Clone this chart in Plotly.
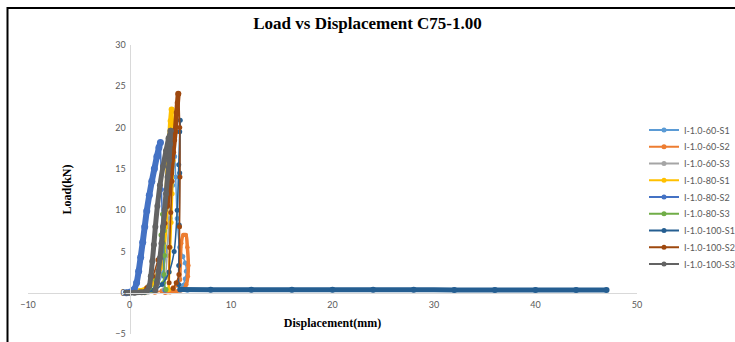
import plotly.graph_objects as go

# ---- specimen names and colours ----
names = ["I-1.0-60-S1", "I-1.0-60-S2", "I-1.0-60-S3",
         "I-1.0-80-S1", "I-1.0-80-S2", "I-1.0-80-S3",
         "I-1.0-100-S1", "I-1.0-100-S2", "I-1.0-100-S3"]
colors = ["#5B9BD5", "#ED7D31", "#A5A5A5",
          "#FFC000", "#4472C4", "#70AD47",
          "#255E91", "#9E480E", "#636363"]

x_ticks = [-10, 0, 10, 20, 30, 40, 50]
y_ticks = [-5, 0, 5, 10, 15, 20, 25, 30]

# ---- displacement (mm) / load (kN) readings, per specimen segment ----
# I-1.0-60-S1
s1_x = [0.0, 1.0, 2.0, 2.6, 3.2, 3.7, 4.0, 4.25, 4.45, 4.55, 4.7, 4.95, 5.25, 5.5, 5.6, 5.5, 5.3, 5.45, 5.7]
s1_y = [0.0, 0.05, 0.15, 0.6, 2.2, 5.5, 9.0, 13.0, 16.5, 14.0, 9.0, 5.5, 4.4, 3.6, 2.6, 1.7, 0.9, 0.4, 0.3]

# I-1.0-60-S2
s2_rise_x = [0.0, 1.5, 2.5, 3.2, 3.8, 4.3, 4.7, 4.95]
s2_rise_y = [0.0, 0.0, 0.05, 0.2, 0.4, 0.6, 0.9, 1.6]
s2_loop_x = [4.95, 5.0, 5.1, 5.3, 5.55, 5.7, 5.8, 5.75, 5.6, 5.4, 5.1, 4.6, 4.0, 3.5]
s2_loop_y = [1.6, 3.5, 6.0, 7.0, 7.0, 5.5, 3.3, 2.0, 1.0, 0.5, 0.3, 0.15, 0.05, 0.0]

# I-1.0-60-S3
s3_x = [0.0, 1.8, 2.5, 2.9, 3.2, 3.5, 3.75, 3.9, 3.95, 3.85, 3.7, 3.55, 3.4]
s3_y = [0.0, 0.05, 0.4, 2.0, 4.5, 8.0, 11.5, 14.0, 12.0, 8.0, 4.5, 1.8, 0.4]

# I-1.0-80-S1
s4_rise_x = [0.0, 1.0, 1.8, 2.5, 3.0, 3.3, 3.5, 3.65, 3.8, 3.95, 4.05, 4.15]
s4_rise_y = [0.0, 0.2, 0.6, 1.5, 3.0, 5.0, 8.0, 11.5, 15.5, 18.5, 20.8, 22.2]
s4_fall_x = [4.15, 4.35, 4.3, 4.2, 4.1, 4.0, 3.9, 3.85]
s4_fall_y = [22.2, 19.7, 16.0, 12.0, 8.5, 5.5, 2.5, 0.4]

# I-1.0-80-S2
s5_rise_x = [-0.3, 0.1, 0.45, 0.7, 0.9, 1.1, 1.3, 1.5, 1.7, 1.95, 2.2, 2.45, 2.7, 2.9, 3.05]
s5_rise_y = [0.0, 0.1, 0.4, 1.2, 2.6, 4.3, 6.1, 8.0, 9.9, 11.8, 13.5, 15.0, 16.5, 17.6, 18.2]
s5_fall_x = [3.05, 3.15, 3.3, 3.4, 3.5]
s5_fall_y = [18.2, 12.5, 6.0, 2.0, 0.3]

# I-1.0-80-S3
s6_x = [0.0, 1.5, 2.2, 2.6, 2.9, 3.1, 3.25, 3.4, 3.45, 3.4, 3.35, 3.6]
s6_y = [0.0, 0.05, 0.3, 1.5, 4.0, 7.0, 9.5, 7.5, 4.5, 2.2, 1.2, 0.4]

# I-1.0-100-S1
s7_peak_x = [0.0, 1.5, 2.4, 3.2, 3.9, 4.4, 4.7, 4.85, 4.95, 5.0, 4.95, 4.9, 4.85, 4.85, 5.0]
s7_peak_y = [0.0, 0.05, 0.3, 1.0, 2.5, 5.0, 10.0, 15.5, 19.5, 20.9, 14.5, 8.2, 3.3, 1.0, 0.4]
s7_tail_x = [5.0, 8.0, 12.0, 16.0, 20.0, 24.0, 28.0, 32.0, 36.0, 40.0, 44.0, 47.0]
s7_tail_y = [0.38, 0.37, 0.36, 0.36, 0.35, 0.35, 0.35, 0.34, 0.34, 0.34, 0.33, 0.33]

# I-1.0-100-S2
s8_toe_x = [0.0, 1.0, 1.7, 2.3, 2.8, 3.2, 3.5, 3.7]
s8_toe_y = [0.0, 0.1, 0.6, 2.0, 4.0, 6.2, 8.4, 10.5]
s8_rise_x = [3.7, 3.9, 4.1, 4.3, 4.5, 4.65, 4.8]
s8_rise_y = [10.5, 12.5, 14.5, 17.0, 19.5, 21.8, 24.1]
s8_fall_x = [4.85, 4.95, 4.97, 4.93, 4.87, 4.6, 4.3]
s8_fall_y = [24.1, 20.0, 14.0, 8.0, 2.2, 1.2, 0.5]
s8_back_x = [4.7, 4.45, 4.2, 4.07, 3.95, 3.9]
s8_back_y = [23.0, 18.5, 13.5, 9.7, 5.5, 1.2]

# I-1.0-100-S3
s9_rise_x = [-0.3, 0.5, 1.2, 1.7, 1.95, 2.1, 2.25, 2.4, 2.55, 2.75, 3.0, 3.3, 3.6, 3.85, 4.05]
s9_rise_y = [0.0, 0.0, 0.05, 0.2, 0.8, 2.0, 3.8, 5.8, 8.0, 10.5, 13.0, 15.3, 17.2, 18.7, 19.6]
s9_fall_x = [4.05, 4.0, 3.9, 3.75, 3.6, 3.45, 3.3, 3.15, 3.0, 2.85, 2.7, 2.55]
s9_fall_y = [19.6, 18.0, 16.0, 14.0, 12.0, 10.0, 8.0, 6.0, 4.2, 2.6, 1.2, 0.3]

THIN, THICK = 1.5, 5

# (series index, x, y, line width)
segments = [
    (0, s1_x, s1_y, THIN),
    (1, s2_rise_x, s2_rise_y, THIN),
    (1, s2_loop_x, s2_loop_y, 3.5),
    (2, s3_x, s3_y, THIN),
    (3, s4_rise_x, s4_rise_y, THICK),
    (3, s4_fall_x, s4_fall_y, 2.5),
    (4, s5_rise_x, s5_rise_y, 6),
    (4, s5_fall_x, s5_fall_y, THIN),
    (5, s6_x, s6_y, THIN),
    (6, s7_peak_x, s7_peak_y, THIN),
    (6, s7_tail_x, s7_tail_y, THICK),
    (7, s8_toe_x, s8_toe_y, THIN),
    (7, s8_rise_x, s8_rise_y, THICK),
    (7, s8_fall_x, s8_fall_y, THIN),
    (7, s8_back_x, s8_back_y, THIN),
    (8, s9_rise_x, s9_rise_y, THICK),
    (8, s9_fall_x, s9_fall_y, THICK),
]

fig = go.Figure()

for idx, xs, ys, w in segments:
    fig.add_trace(go.Scatter(
        x=xs, y=ys, mode="lines+markers",
        line=dict(color=colors[idx], width=w, shape="spline", smoothing=0.8),
        marker=dict(color=colors[idx], size=5 if w < 3 else w + 1),
        legendgroup=names[idx], showlegend=False, hoverinfo="skip",
    ))

# one legend box per specimen, stacked down the right-hand side
legend_font = dict(family="Lato, Liberation Sans, sans-serif", size=9, color="#595959")
legend_boxes = {}
for i, (name, col) in enumerate(zip(names, colors)):
    key = "legend" if i == 0 else f"legend{i + 1}"
    fig.add_trace(go.Scatter(
        x=[None], y=[None], mode="lines+markers", name=name,
        line=dict(color=col, width=2), marker=dict(color=col, size=5),
        legendgroup=name, legend=key,
    ))
    row_px = 130 + i * 16.75
    legend_boxes[key] = dict(
        x=1.0115, xanchor="left", y=(334 - row_px) / 289, yanchor="middle",
        font=legend_font, itemwidth=30, bgcolor="rgba(0,0,0,0)",
        borderwidth=0, tracegroupgap=0,
    )

axis_font = dict(family="Lato, Liberation Sans, sans-serif", size=9, color="#595959")
title_font = dict(family="Liberation Serif, Times New Roman, serif", size=12,
                  color="black", weight="bold")

fig.update_layout(
    width=735, height=342,
    margin=dict(l=28, r=98, t=45, b=8, autoexpand=False),
    paper_bgcolor="white", plot_bgcolor="white",
    title=dict(text="Load vs Displacement C75-1.00",
               font=dict(family="Liberation Serif, Times New Roman, serif",
                         size=17, color="black", weight="bold"),
               x=0.5, xref="container", xanchor="center",
               y=1 - 23 / 342, yref="container", yanchor="middle"),
    xaxis=dict(range=[-10, 50], tickvals=x_ticks, showgrid=False, zeroline=False,
               showline=True, linecolor="#D9D9D9", linewidth=1, ticks="",
               anchor="free", position=5 / 35, tickfont=axis_font,
               automargin=False, ticklabelstandoff=3,
               title=dict(text="Displacement(mm)", font=title_font, standoff=10)),
    yaxis=dict(range=[-5, 30], tickvals=y_ticks, showgrid=False, zeroline=False,
               showline=True, linecolor="#D9D9D9", linewidth=1, ticks="",
               anchor="free", position=10 / 60, tickfont=axis_font,
               automargin=False, ticklabelstandoff=2,
               title=dict(text="Load(kN)", font=title_font, standoff=40)),
    showlegend=True,
    shapes=[
        # frame edges along the top and left
        dict(type="line", xref="paper", yref="paper",
             x0=(7 - 28) / 609, x1=(745 - 28) / 609,
             y0=(334 - 8) / 289, y1=(334 - 8) / 289,
             line=dict(color="black", width=2)),
        dict(type="line", xref="paper", yref="paper",
             x0=(7.5 - 28) / 609, x1=(7.5 - 28) / 609,
             y0=(334 - 7) / 289, y1=(334 - 350) / 289,
             line=dict(color="black", width=2)),
    ],
)
fig.update_layout(**legend_boxes)

fig.write_html("out.html")
